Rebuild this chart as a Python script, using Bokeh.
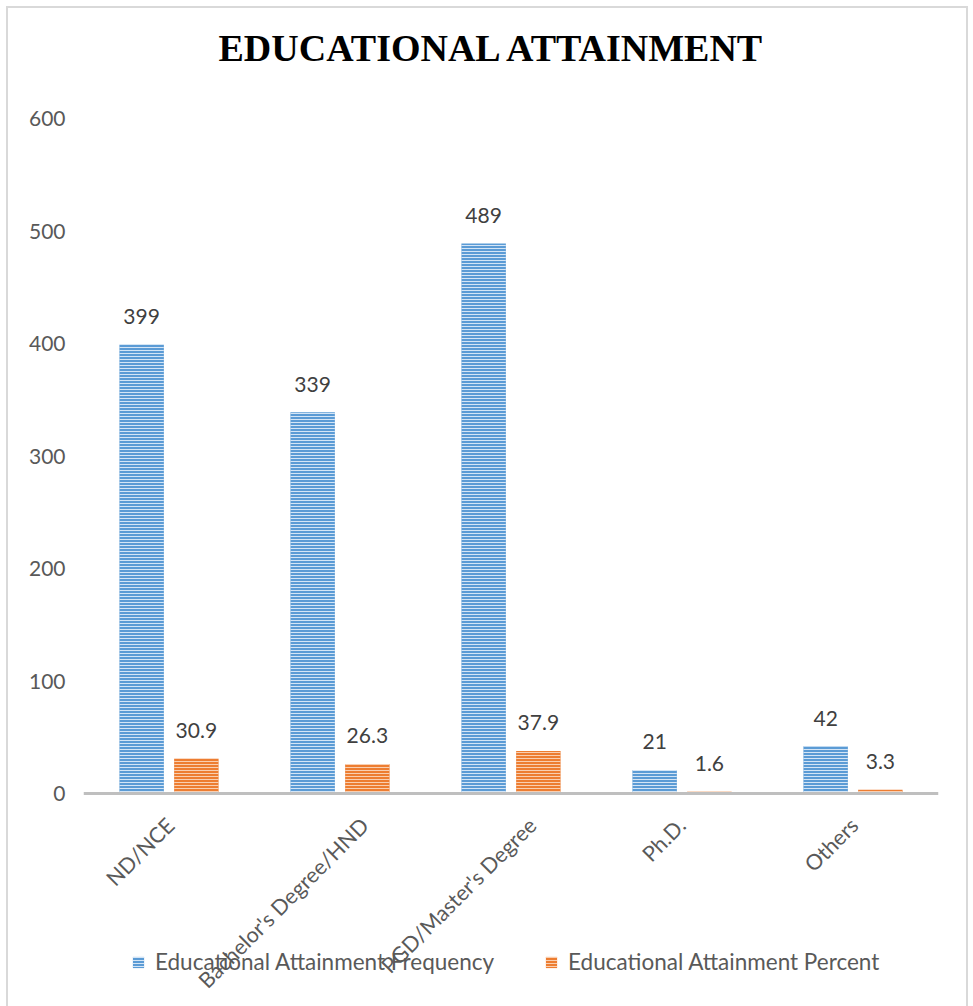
import math
from bokeh.plotting import figure
from bokeh.models import (ColumnDataSource, FactorRange, Range1d, FixedTicker, Legend,
                          LegendItem, Span, Title)
from bokeh.transform import dodge
from bokeh.core.properties import value
from bokeh.embed import file_html
from bokeh.resources import INLINE

categories = ["ND/NCE", "Bachelor's Degree/HND", "PGD/Master's Degree", "Ph.D.", "Others"]
frequency = [399, 339, 489, 21, 42]
percent = [30.9, 26.3, 37.9, 1.6, 3.3]
y_ticks = [0, 100, 200, 300, 400, 500, 600]
series_names = ["Educational Attainment Frequency", "Educational Attainment Percent"]
chart_title = "EDUCATIONAL ATTAINMENT"

src = ColumnDataSource(dict(
    cat=categories,
    freq=frequency,
    pct=percent,
    freq_lbl=[str(v) for v in frequency],
    pct_lbl=[str(v) for v in percent],
    # Excel shifts longer rotated labels further right
    lbl_dx=[1.55 * len(c) - 8 for c in categories],
))

FONT = "Lato"
GREY = "#595959"
LINE = "#d9d9d9"

p = figure(width=973, height=1006, output_backend="svg", toolbar_location=None,
           title=None,
           x_range=FactorRange(factors=categories), y_range=Range1d(-189.3, 600),
           min_border_left=83, min_border_right=35, min_border_top=118,
           min_border_bottom=0)

# spacer title nearest the frame, then the real title above it
p.add_layout(Title(text=" ", text_font_size="10px", standoff=36), "above")
p.add_layout(Title(text=chart_title, text_font="Liberation Serif", text_font_size="38px",
                   text_font_style="bold", text_color="#000000", align="left",
                   offset=135, standoff=2), "above")

p.outline_line_color = None
p.grid.grid_line_color = None
p.background_fill_color = None
p.border_fill_color = None
p.styles = {
    "background-color": "white",
    "background-image": f"linear-gradient({LINE},{LINE}), linear-gradient({LINE},{LINE}), linear-gradient({LINE},{LINE})",
    "background-position": "6px 6px, 6px 6px, 966px 6px",
    "background-size": "2px 1010px, 962px 2px, 2px 1010px",
    "background-repeat": "no-repeat",
}

r1 = p.vbar(x=dodge("cat", -0.16, range=p.x_range), top="freq", width=0.26, source=src,
            fill_color="#5b9bd5", line_color=None,
            hatch_pattern="horizontal_line", hatch_color="#d4e5f6",
            hatch_scale=3, hatch_weight=1)
r2 = p.vbar(x=dodge("cat", 0.16, range=p.x_range), top="pct", width=0.26, source=src,
            fill_color="#ed7d31", line_color=None,
            hatch_pattern="horizontal_line", hatch_color="#f9cfb1",
            hatch_scale=3, hatch_weight=1)

# baseline (category axis line), drawn over the bar bottoms as in the original
p.add_layout(Span(location=0, dimension="width", line_color="#bfbfbf", line_width=3))

p.text(x=dodge("cat", -0.16, range=p.x_range), y="freq", text="freq_lbl", source=src,
       text_align="center", text_baseline="middle", y_offset=-28,
       text_font=value(FONT), text_font_size="21px", text_color="#404040")
p.text(x=dodge("cat", 0.16, range=p.x_range), y="pct", text="pct_lbl", source=src,
       text_align="center", text_baseline="middle", y_offset=-28,
       text_font=value(FONT), text_font_size="21px", text_color="#404040")

# category labels, rotated 45 degrees
p.text(x="cat", y=0, text="cat", source=src, angle=math.pi / 4,
       x_offset="lbl_dx", y_offset=28,
       text_align="right", text_baseline="middle",
       text_font=value(FONT), text_font_size="21.5px", text_color=GREY)

p.xaxis.visible = False

ya = p.yaxis[0]
ya.axis_line_color = None
ya.major_tick_line_color = None
ya.minor_tick_line_color = None
ya.ticker = FixedTicker(ticks=y_ticks)
ya.major_label_text_font = FONT
ya.major_label_text_font_size = "21px"
ya.major_label_text_color = GREY
ya.major_label_standoff = 12

legend = Legend(items=[LegendItem(label=series_names[0], renderers=[r1]),
                       LegendItem(label=series_names[1], renderers=[r2])],
                orientation="horizontal", location=(48, 31),
                glyph_width=14, glyph_height=14, label_standoff=10, spacing=50,
                padding=0, margin=0, border_line_color=None, background_fill_alpha=0,
                label_text_font=FONT, label_text_font_size="22.5px", label_text_color=GREY)
p.add_layout(legend, "center")

open("out.html", "w").write(file_html(p, INLINE))
